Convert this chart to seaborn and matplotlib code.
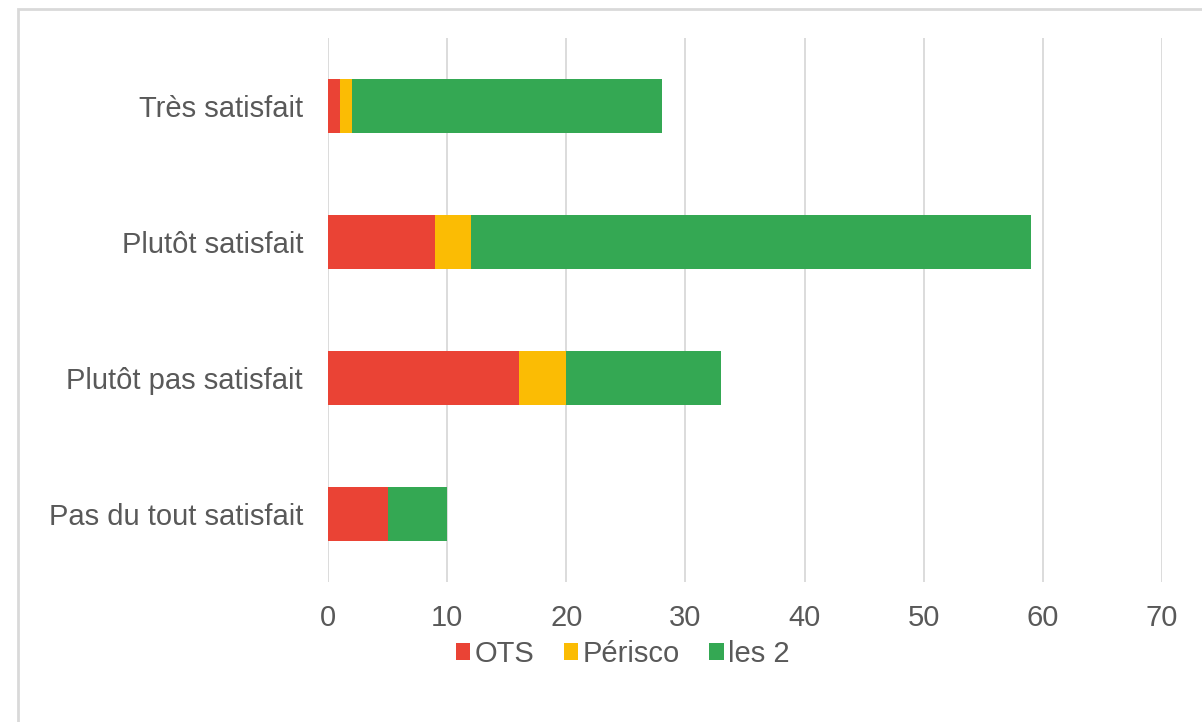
import numpy as np
import pandas as pd
import matplotlib.pyplot as plt
import seaborn as sns
from matplotlib.patches import Rectangle

# data
categories = ['Très satisfait', 'Plutôt satisfait', 'Plutôt pas satisfait', 'Pas du tout satisfait']
ots = [1, 9, 16, 5]
perisco = [1, 3, 4, 0]
les2 = [26, 47, 13, 5]

colors = {'OTS': '#EA4335', 'Périsco': '#FBBC04', 'les 2': '#34A853'}

sns.set_theme(style='white')
plt.rcParams['font.family'] = ['Liberation Sans', 'DejaVu Sans']

df = pd.DataFrame({'cat': categories, 'OTS': ots, 'Périsco': perisco, 'les 2': les2})
df['c1'] = df['OTS']
df['c2'] = df['OTS'] + df['Périsco']
df['c3'] = df['c2'] + df['les 2']

fig = plt.figure(figsize=(12.02, 7.22), dpi=100)
ax = fig.add_axes([0.2729, 0.1939, 0.6938, 0.7535])

# stacked bars: draw cumulative totals from back to front
for col, name in [('c3', 'les 2'), ('c2', 'Périsco'), ('c1', 'OTS')]:
    sns.barplot(data=df, y='cat', x=col, color=colors[name], width=0.4,
                orient='h', ax=ax, saturation=1, label=name, zorder=3, linewidth=0)

ax.set_xlim(0, 70)
ax.set_ylim(3.5, -0.5)
ax.set_xticks(range(0, 71, 10))
ax.xaxis.grid(True, color='#d9d9d9', linewidth=1.3, zorder=0)
ax.set_axisbelow(True)
for s in ax.spines.values():
    s.set_visible(False)
ax.set_xlabel('')
ax.set_ylabel('')
ax.tick_params(axis='both', length=0, labelsize=21, labelcolor='#595959')
ax.tick_params(axis='x', pad=16)
ax.tick_params(axis='y', pad=18)

handles, labels = ax.get_legend_handles_labels()
order = [labels.index(n) for n in ['OTS', 'Périsco', 'les 2']]
leg = ax.legend([handles[i] for i in order], [labels[i] for i in order],
                loc='center', bbox_to_anchor=(0.518, 1 - 654 / 722), bbox_transform=fig.transFigure,
                ncol=3, frameon=False, fontsize=21, handlelength=0.5, handleheight=0.5,
                handletextpad=0.15, columnspacing=1.0)
for t in leg.get_texts():
    t.set_color('#595959')

# outer chart frame
fig.patches.append(Rectangle((18 / 1202, -0.05), 1.2, 1 - 9 / 722 + 0.05, transform=fig.transFigure,
                             fill=False, edgecolor='#d9d9d9', linewidth=2))

fig.savefig('out.png', dpi=100)
